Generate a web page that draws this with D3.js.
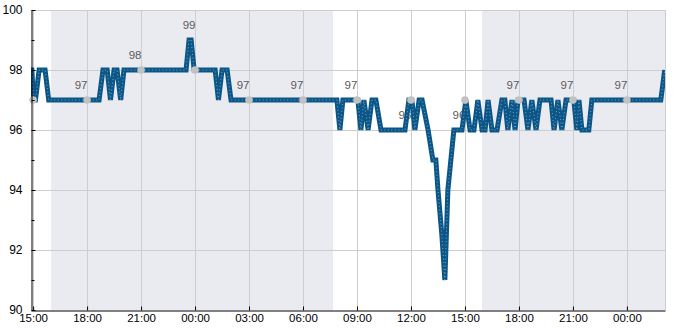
<!DOCTYPE html>
<html>
<head>
<meta charset="utf-8">
<script src="https://cdn.jsdelivr.net/npm/d3@7"></script>
<style>
  body { margin: 0; background: #fff; }
  svg { display: block; font-family: "Liberation Sans", Arial, sans-serif; }
</style>
</head>
<body>
<svg width="685" height="330"></svg>
<script>
// readings: [day hh:mm, value] where the trace changes direction
const readings = [
  ["01 14:53", 98], ["01 14:56", 98], ["01 15:01", 97], ["01 15:08", 97], ["01 15:20", 98],
  ["01 15:40", 98], ["01 15:52", 97], ["01 18:40", 97], ["01 18:53", 98], ["01 19:07", 98],
  ["01 19:18", 97], ["01 19:30", 98], ["01 19:40", 98], ["01 19:52", 97], ["01 20:03", 98],
  ["01 23:30", 98], ["01 23:40", 99], ["01 23:47", 99], ["01 23:57", 98], ["02 01:07", 98],
  ["02 01:18", 97], ["02 01:30", 98], ["02 01:47", 98], ["02 02:00", 97], ["02 07:53", 97],
  ["02 08:03", 96], ["02 08:13", 97], ["02 08:53", 97], ["02 09:03", 97], ["02 09:13", 96],
  ["02 09:23", 97], ["02 09:37", 96], ["02 09:50", 97], ["02 10:03", 97], ["02 10:20", 96],
  ["02 11:40", 96], ["02 11:53", 97], ["02 12:03", 97], ["02 12:13", 96], ["02 12:27", 97],
  ["02 12:37", 97], ["02 12:57", 96], ["02 13:13", 95], ["02 13:23", 95], ["02 13:30", 94],
  ["02 13:43", 92.5], ["02 13:53", 91], ["02 13:58", 92.5], ["02 14:03", 94], ["02 14:13", 95],
  ["02 14:23", 96], ["02 14:50", 96], ["02 15:03", 97], ["02 15:17", 96], ["02 15:30", 96],
  ["02 15:43", 97], ["02 15:57", 96], ["02 16:07", 96], ["02 16:17", 97], ["02 16:30", 96],
  ["02 16:47", 96], ["02 17:03", 97], ["02 17:13", 97], ["02 17:23", 96], ["02 17:37", 97],
  ["02 17:47", 96], ["02 17:57", 97], ["02 18:17", 97], ["02 18:30", 96], ["02 18:43", 97],
  ["02 18:57", 96], ["02 19:10", 97], ["02 19:47", 97], ["02 19:57", 96], ["02 20:10", 97],
  ["02 20:23", 96], ["02 20:37", 97], ["02 21:03", 97], ["02 21:13", 96], ["02 21:20", 97],
  ["02 21:30", 96], ["02 21:53", 96], ["02 22:03", 97], ["03 01:53", 97], ["03 02:06", 98]
];

const nightBands = [["01 16:00", "02 07:40"], ["02 15:57", "03 02:07"]];

const tickTimes = ["01 15:00", "01 18:00", "01 21:00", "02 00:00", "02 03:00", "02 06:00",
  "02 09:00", "02 12:00", "02 15:00", "02 18:00", "02 21:00", "03 00:00"];
const markerValues = [97, 97, 98, 98, 97, 97, 97, 97, 97, 97, 97, 97];

const noteTimes = ["01 17:40", "01 20:40", "01 23:40", "02 02:40", "02 05:40", "02 08:40",
  "02 11:40", "02 14:40", "02 17:40", "02 20:40", "02 23:40"];
const noteValues = [97, 98, 99, 97, 97, 97, 96, 96, 97, 97, 97];

const yMajor = [90, 92, 94, 96, 98, 100];
const yMinor = [91, 93, 95, 97, 99];

const parse = d3.timeParse("%d %H:%M");
const width = 685, height = 330;
const margin = { top: 10, right: 20, bottom: 20, left: 31 };

const svg = d3.select("svg");
const x = d3.scaleTime()
  .domain([parse("01 14:53"), parse("03 02:07")])
  .range([margin.left, width - margin.right]);
const y = d3.scaleLinear()
  .domain([90, 100])
  .range([height - margin.bottom, margin.top]);

svg.append("clipPath").attr("id", "plot")
  .append("rect")
  .attr("x", margin.left).attr("y", margin.top)
  .attr("width", width - margin.left - margin.right)
  .attr("height", height - margin.top - margin.bottom);

// night shading
svg.append("g")
  .selectAll("rect")
  .data(nightBands)
  .join("rect")
  .attr("clip-path", "url(#plot)")
  .attr("x", d => x(parse(d[0])))
  .attr("width", d => x(parse(d[1])) - x(parse(d[0])))
  .attr("y", margin.top)
  .attr("height", height - margin.top - margin.bottom)
  .attr("fill", "#eaebf1");

// grid
const grid = svg.append("g").attr("stroke", "#cdcdcd").attr("stroke-width", 1);
grid.selectAll(".gy")
  .data(yMajor.slice(1))
  .join("line")
  .attr("x1", margin.left).attr("x2", width - margin.right)
  .attr("y1", d => Math.round(y(d)) + 0.5).attr("y2", d => Math.round(y(d)) + 0.5);
grid.selectAll(".gx")
  .data(tickTimes.map(parse))
  .join("line")
  .attr("x1", d => Math.round(x(d)) + 0.5).attr("x2", d => Math.round(x(d)) + 0.5)
  .attr("y1", margin.top).attr("y2", height - margin.bottom);
grid.append("line")
  .attr("x1", width - margin.right + 0.5).attr("x2", width - margin.right + 0.5)
  .attr("y1", margin.top).attr("y2", height - margin.bottom);

// value notes (under the trace)
svg.append("g")
  .selectAll("text")
  .data(noteTimes.map((t, i) => [parse(t), noteValues[i]]))
  .join("text")
  .attr("x", d => x(d[0]))
  .attr("y", d => y(d[1]) - 11)
  .attr("text-anchor", "middle")
  .attr("font-size", 11.5)
  .attr("fill", "#5a5a5a")
  .text(d => d[1]);

// trace
const data = readings.map(d => ({ t: parse(d[0]), v: d[1] }));
const line = d3.line().x(d => x(d.t)).y(d => y(d.v));
svg.append("path")
  .datum(data)
  .attr("clip-path", "url(#plot)")
  .attr("d", line)
  .attr("fill", "none")
  .attr("stroke", "#0b5688")
  .attr("stroke-width", 5);
svg.append("path")
  .datum(data)
  .attr("clip-path", "url(#plot)")
  .attr("d", line)
  .attr("fill", "none")
  .attr("stroke", "#c8d6e3")
  .attr("stroke-opacity", 0.6)
  .attr("stroke-width", 1)
  .attr("stroke-dasharray", "1,2.5");

// markers at each tick
svg.append("g")
  .selectAll("circle")
  .data(tickTimes.map((t, i) => [parse(t), markerValues[i]]))
  .join("circle")
  .attr("cx", d => x(d[0]))
  .attr("cy", d => y(d[1]))
  .attr("r", 3.8)
  .attr("fill", "#c2c2c2");

// axes
const yAxis = svg.append("g")
  .attr("transform", `translate(${margin.left + 0.5},0)`)
  .call(d3.axisLeft(y).tickValues(yMajor).tickSize(-4).tickSizeOuter(0).tickPadding(9));
svg.append("g")
  .attr("transform", `translate(${margin.left + 0.5},0)`)
  .call(d3.axisLeft(y).tickValues(yMinor).tickSize(-3).tickSizeOuter(0).tickFormat(""))
  .select(".domain").remove();
yAxis.selectAll("text").attr("font-size", 12).attr("fill", "#000")
  .attr("font-family", "Liberation Sans, Arial, sans-serif");

const xAxis = svg.append("g")
  .attr("transform", `translate(0,${height - margin.bottom + 0.5})`)
  .call(d3.axisBottom(x).tickValues(tickTimes.map(parse))
    .tickFormat(d3.timeFormat("%H:%M")).tickSize(-4).tickSizeOuter(0).tickPadding(3));
xAxis.selectAll("text").attr("font-size", 11.5).attr("fill", "#000")
  .attr("font-family", "Liberation Sans, Arial, sans-serif");
</script>
</body>
</html>
